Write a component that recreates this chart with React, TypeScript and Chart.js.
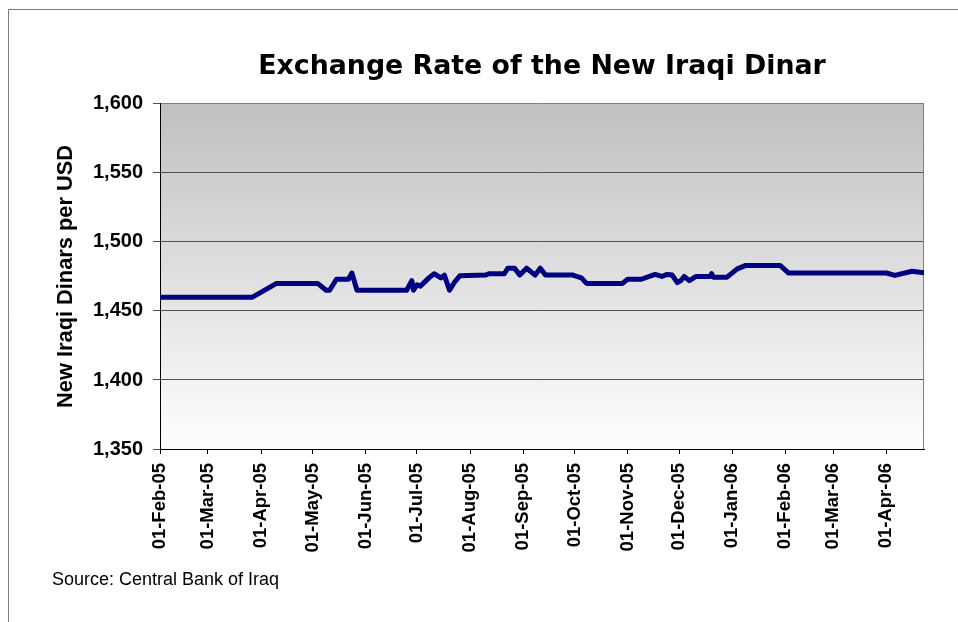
import React, { useEffect, useRef } from "react";
import { Chart, registerables } from "chart.js";

Chart.register(...registerables);

// ---- data ----
const titleText = "Exchange Rate of the New Iraqi Dinar";
const yAxisTitle = "New Iraqi Dinars per USD";
const sourceText = "Source: Central Bank of Iraq";

const dates = [
  "2005-02-01", "2005-03-27", "2005-04-10", "2005-05-04", "2005-05-09", "2005-05-11",
  "2005-05-15", "2005-05-22", "2005-05-24", "2005-05-27", "2005-06-25", "2005-06-28",
  "2005-06-29", "2005-07-01", "2005-07-03", "2005-07-08", "2005-07-11", "2005-07-15",
  "2005-07-17", "2005-07-20", "2005-07-23", "2005-07-26", "2005-08-10", "2005-08-12",
  "2005-08-21", "2005-08-23", "2005-08-27", "2005-08-30", "2005-09-03", "2005-09-08",
  "2005-09-11", "2005-09-14", "2005-09-30", "2005-10-05", "2005-10-08", "2005-10-29",
  "2005-11-01", "2005-11-09", "2005-11-17", "2005-11-21", "2005-11-24", "2005-11-27",
  "2005-11-30", "2005-12-02", "2005-12-04", "2005-12-07", "2005-12-11", "2005-12-19",
  "2005-12-20", "2005-12-21", "2005-12-29", "2006-01-04", "2006-01-09", "2006-01-29",
  "2006-02-03", "2006-04-01", "2006-04-06", "2006-04-16", "2006-04-23",
];

const rates = [
  1460, 1460, 1470, 1470, 1465, 1465,
  1473, 1473, 1477.5, 1465, 1465, 1472,
  1465, 1469, 1468, 1474, 1477, 1474,
  1476, 1465, 1471, 1475.5, 1476, 1477,
  1477, 1481, 1481, 1476, 1481, 1476,
  1481, 1476, 1476, 1474, 1470, 1470,
  1473, 1473, 1476.5, 1475, 1476.5, 1476,
  1470.5, 1472, 1475, 1472, 1475, 1475,
  1477, 1474.5, 1474.5, 1480.5, 1483, 1483,
  1477.5, 1477.5, 1475.8, 1478.8, 1477.6,
];

const monthTickDates = [
  "2005-02-01", "2005-03-01", "2005-04-01", "2005-05-01", "2005-06-01", "2005-07-01",
  "2005-08-01", "2005-09-01", "2005-10-01", "2005-11-01", "2005-12-01", "2006-01-01",
  "2006-02-01", "2006-03-01", "2006-04-01",
];

const monthTickLabels = [
  "01-Feb-05", "01-Mar-05", "01-Apr-05", "01-May-05", "01-Jun-05", "01-Jul-05",
  "01-Aug-05", "01-Sep-05", "01-Oct-05", "01-Nov-05", "01-Dec-05", "01-Jan-06",
  "01-Feb-06", "01-Mar-06", "01-Apr-06",
];

const yMin = 1350;
const yMax = 1600;
const yStep = 50;

// ---- helpers ----
const DAY_MS = 86400000;
const ORIGIN = Date.parse(dates[0]);
const toDay = (s: string) => Math.round((Date.parse(s) - ORIGIN) / DAY_MS);

const ARIAL = "Arial, 'Liberation Sans', sans-serif";

const decorPlugin = {
  id: "decor",
  beforeDraw(chart: any) {
    const { ctx, chartArea, width, height } = chart;
    ctx.save();
    ctx.fillStyle = "#ffffff";
    ctx.fillRect(0, 0, width, height);
    // outer frame (left + top)
    ctx.strokeStyle = "#7a7a7a";
    ctx.lineWidth = 1;
    ctx.beginPath();
    ctx.moveTo(8.5, height);
    ctx.lineTo(8.5, 9.5);
    ctx.lineTo(width, 9.5);
    ctx.stroke();
    // plot area gradient
    const g = ctx.createLinearGradient(0, chartArea.top, 0, chartArea.bottom);
    g.addColorStop(0, "#c0c0c0");
    g.addColorStop(1, "#ffffff");
    ctx.fillStyle = g;
    ctx.fillRect(chartArea.left, chartArea.top, chartArea.right - chartArea.left, chartArea.bottom - chartArea.top);
    ctx.restore();
  },
  beforeDatasetsDraw(chart: any) {
    const { ctx, chartArea } = chart;
    ctx.save();
    ctx.strokeStyle = "#808080";
    ctx.lineWidth = 1;
    const r = Math.round(chartArea.right) - 0.5;
    ctx.beginPath();
    ctx.moveTo(r, chartArea.top);
    ctx.lineTo(r, chartArea.bottom);
    ctx.stroke();
    ctx.restore();
  },
  afterDraw(chart: any) {
    const { ctx } = chart;
    ctx.save();
    ctx.fillStyle = "#000000";
    ctx.font = `18px ${ARIAL}`;
    ctx.textAlign = "left";
    ctx.textBaseline = "alphabetic";
    ctx.fillText(sourceText, 52, 585);
    ctx.restore();
  },
};

export default function App() {
  const canvasRef = useRef<HTMLCanvasElement | null>(null);

  useEffect(() => {
    if (!canvasRef.current) return;
    const points = dates.map((d, i) => ({ x: toDay(d), y: rates[i] }));
    const tickValues = monthTickDates.map(toDay);
    const xMax = toDay(dates[dates.length - 1]);

    const chart = new Chart(canvasRef.current, {
      type: "line",
      data: {
        datasets: [
          {
            label: "IQD per USD",
            data: points,
            borderColor: "#000080",
            backgroundColor: "#000080",
            borderWidth: 5,
            pointRadius: 0,
            tension: 0,
            borderJoinStyle: "round",
            borderCapStyle: "butt",
            fill: false,
          },
        ],
      },
      options: {
        animation: false,
        responsive: true,
        maintainAspectRatio: false,
        layout: { padding: { left: 0, right: 34, top: 0, bottom: 0 } },
        plugins: {
          legend: { display: false },
          tooltip: { enabled: false },
          title: {
            display: true,
            text: titleText,
            fullSize: false,
            color: "#000000",
            font: { family: "'DejaVu Sans', Arial, sans-serif", weight: "bold", size: 26.8, lineHeight: 1.2 },
            padding: { top: 51.1, bottom: 20.7 },
          },
        },
        scales: {
          x: {
            type: "linear",
            min: 0,
            max: xMax,
            afterFit: (s: any) => {
              s.height = 173;
            },
            afterBuildTicks: (s: any) => {
              s.ticks = tickValues.map((v) => ({ value: v }));
            },
            grid: {
              drawOnChartArea: false,
              drawTicks: true,
              tickLength: 5,
              tickColor: "#000000",
              color: "#000000",
            },
            border: { display: true, color: "#000000", width: 1 },
            ticks: {
              autoSkip: false,
              minRotation: 90,
              maxRotation: 90,
              padding: 9,
              color: "#000000",
              font: { family: ARIAL, weight: "bold", size: 18.5 },
              callback: (value: any) => {
                const idx = tickValues.indexOf(Number(value));
                return idx >= 0 ? monthTickLabels[idx] : "";
              },
            },
          },
          y: {
            min: yMin,
            max: yMax,
            afterFit: (s: any) => {
              s.width = 160;
            },
            grid: {
              drawOnChartArea: true,
              drawTicks: true,
              tickLength: 7,
              color: (c: any) => (c.tick && c.tick.value === yMax ? "#808080" : "#505050"),
              tickColor: "#505050",
              lineWidth: 1,
            },
            border: { display: true, color: "#000000", width: 1 },
            ticks: {
              stepSize: yStep,
              padding: 10,
              color: "#000000",
              font: { family: ARIAL, weight: "bold", size: 20 },
              callback: (value: any) => Number(value).toLocaleString("en-US"),
            },
            title: {
              display: true,
              text: yAxisTitle,
              color: "#000000",
              font: { family: ARIAL, weight: "bold", size: 21.8, lineHeight: 1.2 },
              padding: { top: 53, bottom: 0 },
            },
          },
        },
      },
      plugins: [decorPlugin],
    } as any);

    return () => {
      chart.destroy();
    };
  }, []);

  return (
    <div style={{ position: "absolute", left: 0, top: 0, width: 958, height: 622 }}>
      <canvas ref={canvasRef} />
    </div>
  );
}
